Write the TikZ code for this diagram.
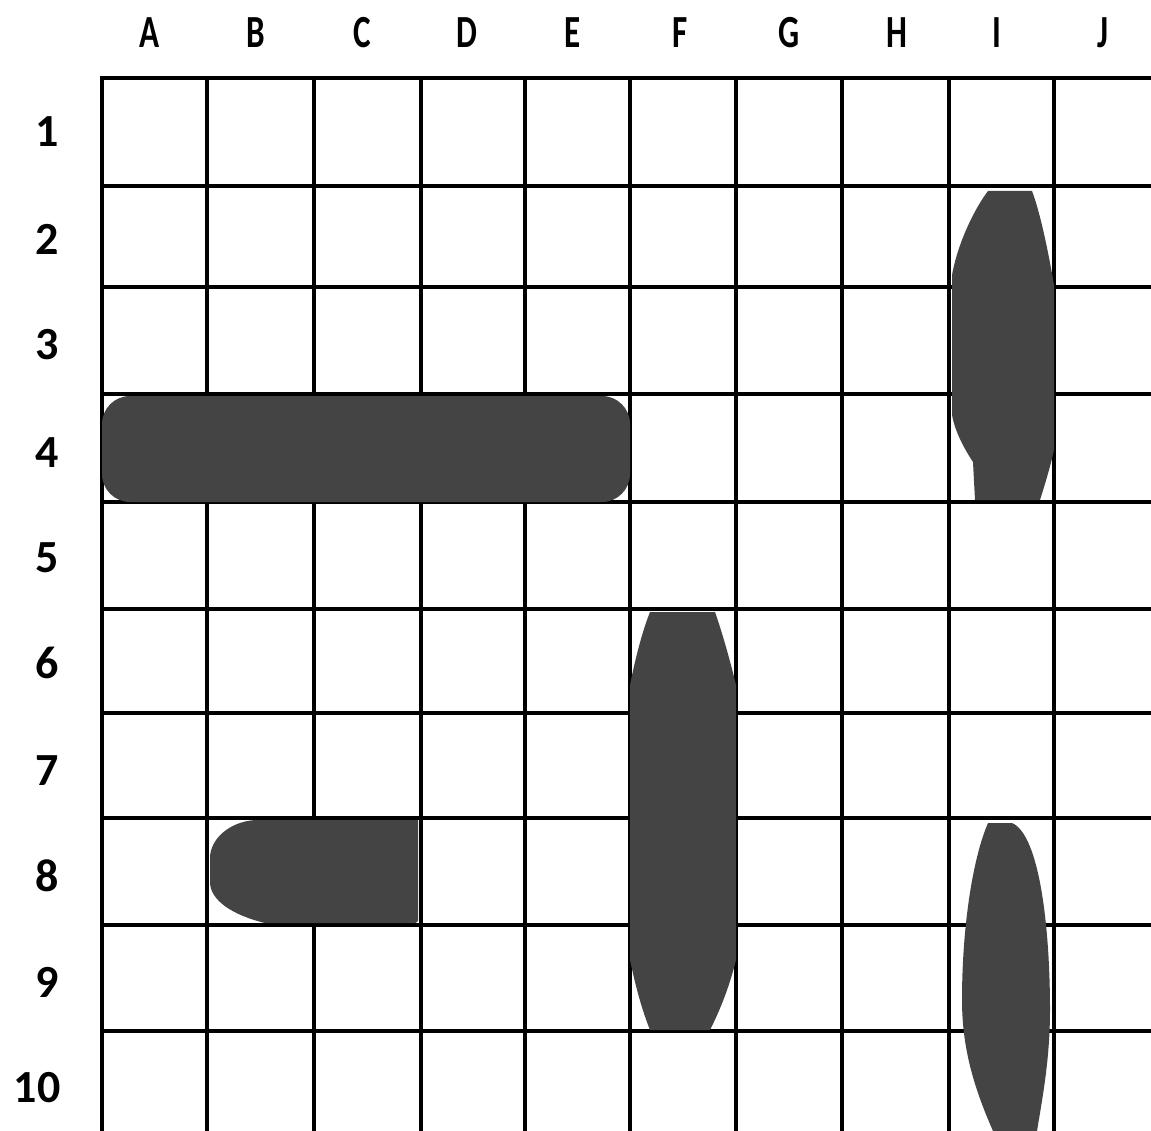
\documentclass[tikz,border=0pt]{standalone}
\usepackage{graphicx}
\usepackage{fontspec}
\setmainfont{Carlito}
\definecolor{blob}{HTML}{444444}
\begin{document}
\begin{tikzpicture}[x=1pt,y=-1pt,
  gridline/.style={line width=4.5pt,black},
  blobfill/.style={fill=blob},
  collab/.style={font=\fontsize{46}{50}\selectfont\bfseries,inner sep=0pt,anchor=base},
  rowlab/.style={font=\fontsize{46}{50}\selectfont\bfseries,inner sep=0pt,anchor=base}]
\path[use as bounding box,fill=white] (0,0) rectangle (1151,1131);
% grid
\foreach \y in {78,186,287,394,502,609,713,818,925,1031}
  \draw[gridline] (100,\y) -- (1151,\y);
\foreach \x in {102,207,314,421,525,630,736,842,949,1054}
  \draw[gridline] (\x,76) -- (\x,1131);
% shapes
\fill[blobfill,rounded corners=28pt] (102,396) rectangle (630,502);
\fill[blobfill] (418,820) -- (418,921) [rounded corners=3pt] -- (418,923) [sharp corners] -- (265,923)
  .. controls (232,915) and (210,900) .. (210,882) -- (210,858)
  .. controls (210,840) and (228,822) .. (255,820) -- cycle;
\fill[blobfill] (988,191) -- (1032,191) .. controls (1040,212) and (1048,250) .. (1054,285)
  -- (1054,450) .. controls (1050,468) and (1045,484) .. (1040,500) -- (975,500) -- (973,462)
  .. controls (965,450) and (955,432) .. (952,415) -- (952,275)
  .. controls (958,242) and (975,208) .. (988,191) -- cycle;
\fill[blobfill] (650,612) -- (715,612) .. controls (722,632) and (730,660) .. (736,685)
  -- (736,960) .. controls (729,988) and (720,1010) .. (710,1030) -- (650,1030)
  .. controls (642,1010) and (636,988) .. (630,960) -- (630,685)
  .. controls (635,660) and (642,632) .. (650,612) -- cycle;
\fill[blobfill] (988,823) -- (1012,823) .. controls (1040,835) and (1050,930) .. (1050,1010)
  .. controls (1050,1060) and (1042,1100) .. (1037,1131) -- (993,1131)
  .. controls (975,1090) and (962,1050) .. (962,1000)
  .. controls (962,930) and (972,860) .. (988,823) -- cycle;
% column labels
\foreach \l/\x in {A/150,B/256,C/362,D/467,E/573,F/680,G/789,H/897,I/997,J/1103}
  \node[collab] (col\l) at (\x,48) {\scalebox{0.72}[1]{\l}};
% row labels
\foreach \n/\y in {1/132,2/240,3/345,4/452,5/557,6/663,7/770,8/876,9/982}
  \node[rowlab] (row\n) at (47,\y+15) {\n};
\node[rowlab] (row10) at (37,1102) {10};
\end{tikzpicture}
\end{document}
